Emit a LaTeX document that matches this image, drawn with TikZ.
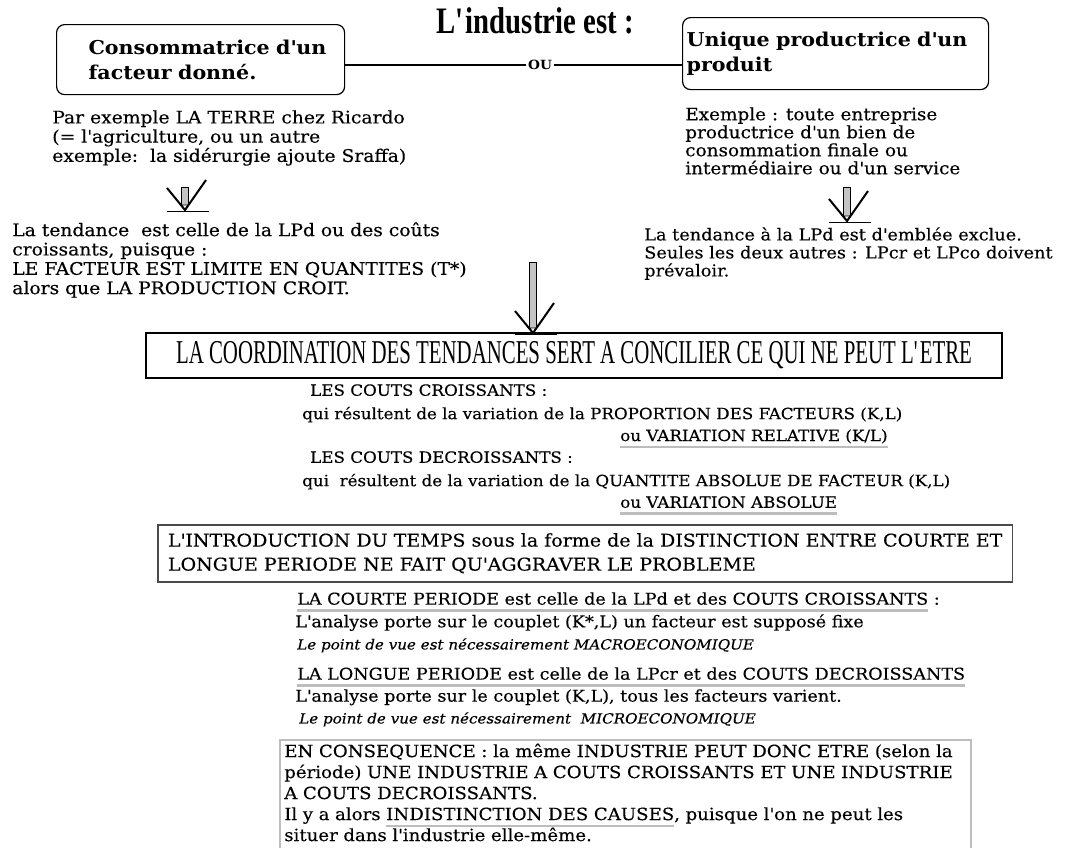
\documentclass[tikz,border=0pt]{standalone}
\usepackage{fontspec}
\setmainfont[FakeStretch=1.08, UprightFeatures={FakeBold=0.3}, ItalicFeatures={FakeBold=0.3}]{DejaVu Serif}
\newfontfamily\titrefont[FakeStretch=0.77]{Liberation Serif}
\newfontfamily\etroitfont[FakeStretch=0.625]{Liberation Serif}
\usepackage{tikz}
\usetikzlibrary{positioning}
\usepackage{xcolor}
\definecolor{grisclair}{HTML}{BDBDBD}
\definecolor{grisfleche}{HTML}{C4C4C4}
\definecolor{grisfonce}{HTML}{4A4A4A}
\newcommand{\corps}{\fontsize{13}{14.4}\selectfont}
\newcommand{\moyen}{\fontsize{11.6}{16.8}\selectfont}
\newcommand{\petit}{\fontsize{12.2}{13.5}\selectfont}
\newcommand{\italique}{\fontsize{10.5}{12}\selectfont\itshape}
\newcommand{\apos}{\textquotesingle}
\newcommand{\soulgris}[1]{\leavevmode\setbox0\hbox{#1}\rlap{\color{grisclair}\rule[-5.5pt]{\wd0}{2pt}}\box0}
\tikzset{
  texte/.style={anchor=north west, inner sep=0pt, align=left, font=\corps},
  boite/.style={draw, rounded corners=6pt, line width=0.9pt, anchor=north west, align=left,
    inner xsep=3pt, font=\fontsize{14.3}{18.8}\selectfont\bfseries},
  pics/fleche/.style={code={
    \filldraw[fill=grisfleche, line width=0.7pt] (-3.5,-#1) rectangle (3.5,-5);
    \filldraw[fill=white, line width=0.7pt] (-3.5,-5) -- (3.5,-5) -- (0,0) -- cycle;
    \draw[line width=1.5pt] (-18,-22) -- (0,0) -- (21,-30);
    \draw[line width=0.7pt] (-18,1) -- (24,1);
  }}
}
\begin{document}
\begin{tikzpicture}[x=0.75pt,y=-0.75pt]
  \useasboundingbox (0,0) rectangle (1069,847);

  % Titre et les deux cas
  \node[font=\titrefont\bfseries\fontsize{28}{30}\selectfont, inner sep=0pt] (titre) at (535,20.5) {L\apos{}industrie est :};
  \node[boite, text width=210pt, minimum height=52.5pt] (conso) at (56,24)
    {\hspace*{21pt}Consommatrice d\apos{}un\\\hspace*{21pt}facteur donné.};
  \node[boite, text width=223.5pt, minimum height=54pt] (prod) at (682,17)
    {Unique productrice d\apos{}un\\produit};
  \node[font=\bfseries\fontsize{9.5}{10}\selectfont, inner sep=1pt] (ou) at (540,65) {OU};
  \draw[line width=0.8pt] (ou.west) -- (ou.west -| conso.east);
  \draw[line width=0.8pt] (ou.east) -- (ou.east -| prod.west);

  % Colonne de gauche
  \node[texte] (exG) at (52,110) {Par exemple LA TERRE chez Ricardo\\(= l\apos{}agriculture, ou un autre\\exemple:\ \ la sidérurgie ajoute Sraffa)};
  \pic at (185,210) {fleche=23};
  \node[texte, font=\fontsize{13}{14.5}\selectfont] (tendG) at (12,222) {La tendance\ \ est celle de la LPd ou des coûts\\croissants, puisque :\\LE FACTEUR EST LIMITE EN QUANTITES (T*)\\alors que LA PRODUCTION CROIT.};

  % Colonne de droite
  \node[texte, font=\fontsize{12.8}{13.5}\selectfont] (exD) at (685,107) {Exemple : toute entreprise\\productrice d\apos{}un bien de\\consommation finale ou\\intermédiaire ou d\apos{}un service};
  \pic at (847,221) {fleche=34};
  \node[texte, font=\fontsize{12.3}{13.5}\selectfont] (tendD) at (644,227) {La tendance à la LPd est d\apos{}emblée exclue.\\Seules les deux autres : LPcr et LPco doivent\\prévaloir.};

  % Coordination
  \node[draw, line width=0.9pt, minimum width=642pt, minimum height=33.75pt, inner sep=0pt,
    font=\etroitfont\fontsize{25}{26}\selectfont] (coord) at (574,355.5) {LA COORDINATION DES TENDANCES SERT A CONCILIER CE QUI NE PEUT L\apos{}ETRE};
  \pic at (533,333) {fleche=71};

  % Couts croissants et decroissants
  \node[texte, font=\moyen] (coutsC) at (310,384) {LES COUTS CROISSANTS :};
  \node[texte, font=\moyen] (coutsC1) at (302,406.5) {qui résultent de la variation de la PROPORTION DES FACTEURS (K,L)};
  \node[texte, font=\moyen] (coutsC2) at (620,429) {\soulgris{ou VARIATION RELATIVE (K/L)}};
  \node[texte, font=\moyen] (coutsD) at (310,451) {LES COUTS DECROISSANTS :};
  \node[texte, font=\moyen] (coutsD1) at (302,473.5) {qui\ \ résultent de la variation de la QUANTITE ABSOLUE DE FACTEUR (K,L)};
  \node[texte, font=\moyen] (coutsD2) at (620,496) {\soulgris{ou VARIATION ABSOLUE}};

  % Introduction du temps
  \node[draw=grisfonce, line width=1.2pt, anchor=north west, align=left, inner sep=0pt,
    minimum width=641pt, minimum height=42.75pt, font=\fontsize{13.2}{18}\selectfont] (intro) at (157,524)
    {L\apos{}INTRODUCTION DU TEMPS sous la forme de la DISTINCTION ENTRE COURTE ET\\LONGUE PERIODE NE FAIT QU\apos{}AGGRAVER LE PROBLEME};

  % Courte et longue periode
  \node[texte, font=\petit] (courte) at (297,592) {\soulgris{LA COURTE PERIODE est celle de la LPd et des COUTS CROISSANTS}~:};
  \node[texte, font=\petit] (courte1) at (295,614) {L\apos{}analyse porte sur le couplet (K*,L) un facteur est supposé fixe};
  \node[texte, font=\italique] (courte2) at (297,638) {Le point de vue est nécessairement MACROECONOMIQUE};
  \node[texte, font=\petit] (longue) at (297,667) {\soulgris{LA LONGUE PERIODE est celle de la LPcr et des COUTS DECROISSANTS}};
  \node[texte, font=\petit] (longue1) at (295,689) {L\apos{}analyse porte sur le couplet (K,L), tous les facteurs varient.};
  \node[texte, font=\italique] (longue2) at (299,712) {Le point de vue est nécessairement\ \ MICROECONOMIQUE};

  % Consequence (cadre ouvert vers le bas)
  \node[anchor=north west, align=left, inner xsep=3pt, inner ysep=2.5pt, text width=511.5pt,
    font=\fontsize{12.6}{15.75}\selectfont] (consequence) at (280,740)
    {EN CONSEQUENCE : la même INDUSTRIE PEUT DONC ETRE (selon la\\période) UNE INDUSTRIE A COUTS CROISSANTS ET UNE INDUSTRIE\\A COUTS DECROISSANTS.\\Il y a alors \soulgris{INDISTINCTION DES CAUSES}, puisque l\apos{}on ne peut les\\situer dans l\apos{}industrie elle-même.};
  \draw[grisclair, line width=1.5pt] ([yshift=-20pt]consequence.south west) -- (consequence.north west)
    -- (consequence.north east) -- ([yshift=-20pt]consequence.south east);
\end{tikzpicture}
\end{document}
